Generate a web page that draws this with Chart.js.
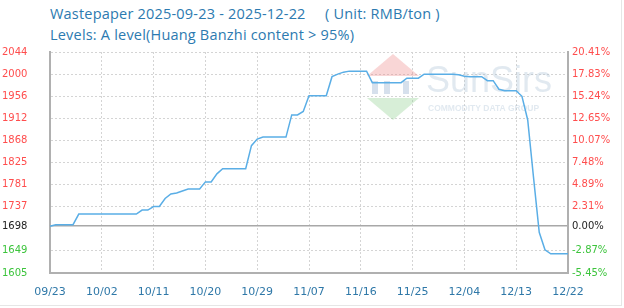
<!DOCTYPE html>
<html>
<head>
<meta charset="utf-8">
<script src="https://cdn.jsdelivr.net/npm/chart.js"></script>
<style>
html, body { margin: 0; padding: 0; background: #fff; }
#wrap { position: relative; width: 624px; height: 308px; overflow: hidden; }
#frame { position: absolute; left: 0; top: 0; width: 621px; height: 305px; border-right: 1px solid #e6e6e6; border-bottom: 1px solid #e6e6e6; }
.ttl { position: absolute; left: 50px; font-family: "Open Sans"; font-size: 14.5px; letter-spacing: 0.2px; line-height: 16px; color: #2c7ab0; white-space: nowrap; }
#c { position: absolute; left: 0; top: 0; }
</style>
</head>
<body>
<div id="wrap">
  <div id="frame"></div>
  <div class="ttl" style="top:6px">Wastepaper 2025-09-23 - 2025-12-22<span style="position:absolute;left:275px">( Unit: RMB/ton )</span></div>
  <div class="ttl" style="top:27px">Levels: A level(Huang Banzhi content &gt; 95%)</div>
  <canvas id="c" width="624" height="308"></canvas>
</div>
<script>
// daily price, RMB/ton, 2025-09-23 .. 2025-12-22
var prices = [
  1698,1701,1701,1701,1701,1722,1722,1722,1722,1722,
  1722,1722,1722,1722,1722,1722,1730,1730,1737,1737,
  1753,1762,1764,1768,1772,1772,1772,1786,1786,1802,
  1812,1812,1812,1812,1812,1858,1871,1875,1875,1875,
  1875,1875,1919,1919,1926,1957,1957,1957,1957,1995,
  2000,2004,2006,2006,2006,2006,1983,1983,1983,1983,
  1983,1983,1992,1992,1992,2000,2000,2000,2000,2000,
  2000,1999,1996,1995,1995,1995,1987,1987,1970,1967,
  1967,1967,1956,1909,1796,1686,1651,1643,1643,1643,
  1643
];
var basePrice = 1698;
var priceTicks = [1605, 1649, 1698, 1737, 1781, 1825, 1868, 1912, 1956, 2000, 2044];
var pctTicks = ['-5.45%', '-2.87%', '0.00%', '2.31%', '4.89%', '7.48%', '10.07%', '12.65%', '15.24%', '17.83%', '20.41%'];

function pad(n) { return (n < 10 ? '0' : '') + n; }
var dates = [];
for (var i = 0; i < prices.length; i++) {
  var d = new Date(2025, 8, 23 + i);
  dates.push(pad(d.getMonth() + 1) + '/' + pad(d.getDate()));
}

function tickColor(c) {
  var v = c.tick ? c.tick.value : basePrice;
  if (v > basePrice) return '#ff4d4d';
  if (v < basePrice) return '#3cc43c';
  return '#222';
}
function setTicks(scale) {
  scale.ticks = priceTicks.map(function (v) { return { value: v }; });
}

var watermark = {
  id: 'watermark',
  beforeDatasetsDraw: function (chart) {
    var ctx = chart.ctx;
    ctx.save();
    ctx.globalAlpha = 0.35;
    ctx.fillStyle = '#ee8a8a';
    ctx.beginPath(); ctx.moveTo(393, 54); ctx.lineTo(419, 76); ctx.lineTo(367, 76); ctx.closePath(); ctx.fill();
    ctx.fillStyle = '#8ccf8c';
    ctx.beginPath(); ctx.moveTo(367, 98); ctx.lineTo(419, 98); ctx.lineTo(393, 120); ctx.closePath(); ctx.fill();
    ctx.fillStyle = '#8aa6c8';
    ctx.fillRect(372, 81, 6, 13); ctx.fillRect(384, 81, 6, 13); ctx.fillRect(403, 81, 6, 13);
    ctx.fillStyle = '#a9bfd4';
    ctx.font = '36px "Liberation Sans"';
    ctx.textBaseline = 'alphabetic';
    ctx.fillText('SunSirs', 426, 92);
    ctx.font = 'bold 8.5px "Liberation Sans"';
    ctx.fillText('COMMODITY DATA GROUP', 428, 111);
    ctx.restore();
  }
};

new Chart(document.getElementById('c'), {
  type: 'line',
  data: {
    labels: dates,
    datasets: [{
      data: prices,
      borderColor: '#5aaee6',
      borderWidth: 1.5,
      pointRadius: 0,
      tension: 0,
      fill: false
    }]
  },
  options: {
    responsive: false,
    animation: false,
    layout: { padding: { top: 52, left: 2, right: 0, bottom: 0 } },
    plugins: { legend: { display: false }, tooltip: { enabled: false } },
    scales: {
      x: {
        type: 'category',
        offset: false,
        grid: { color: '#d4d4d4', drawTicks: false },
        border: { color: '#b0b0b0', width: 2, dash: [2, 2] },
        ticks: {
          autoSkip: false,
          maxRotation: 0,
          padding: 13,
          color: '#2f78a8',
          font: { family: '"DejaVu Sans"', size: 11 },
          callback: function (v, i) { return i % 9 === 0 ? dates[i] : null; }
        },
        afterFit: function (s) { s.height = 35; }
      },
      y: {
        position: 'left',
        min: 1605,
        max: 2044,
        afterBuildTicks: setTicks,
        grid: {
          drawTicks: false,
          color: function (c) { return c.tick && c.tick.value === basePrice ? '#a8a8a8' : '#d4d4d4'; },
          lineWidth: function (c) { return c.tick && c.tick.value === basePrice ? 1.5 : 1; }
        },
        border: {
          color: '#b0b0b0', width: 2,
          dash: function (c) { return c.tick && c.tick.value === basePrice ? [] : [2, 2]; }
        },
        ticks: {
          crossAlign: 'far',
          padding: 0,
          color: tickColor,
          font: { family: '"DejaVu Sans"', size: 10 },
          callback: function (v) { return String(v); }
        },
        afterFit: function (s) { s.width = 48; }
      },
      y1: {
        position: 'right',
        min: 1605,
        max: 2044,
        afterBuildTicks: setTicks,
        grid: { display: false, drawTicks: false },
        border: { color: '#b0b0b0', width: 2 },
        ticks: {
          crossAlign: 'near',
          padding: 4,
          color: tickColor,
          font: { family: '"DejaVu Sans"', size: 10 },
          callback: function (v, i) { return pctTicks[i]; }
        },
        afterFit: function (s) { s.width = 56; }
      }
    }
  },
  plugins: [watermark]
});
</script>
</body>
</html>
